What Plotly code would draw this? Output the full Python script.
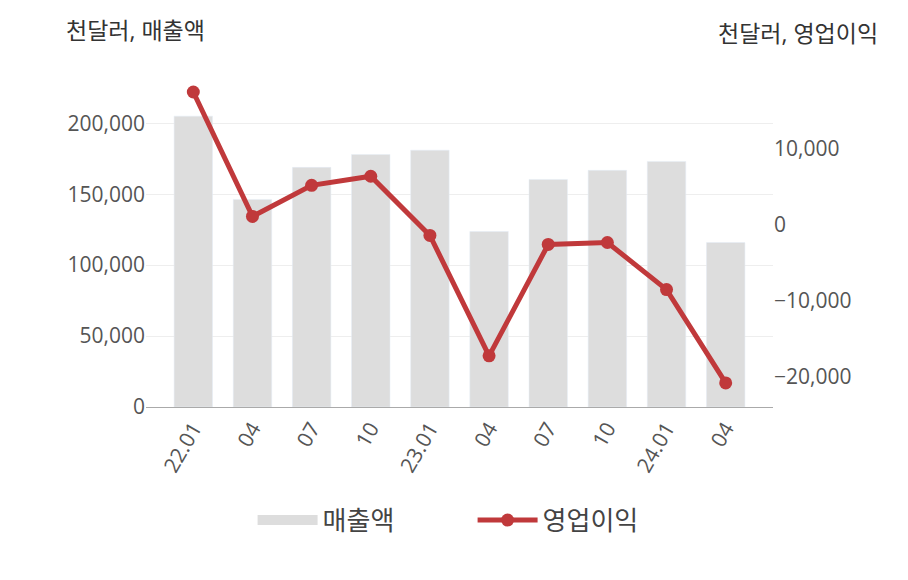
import plotly.graph_objects as go

quarters = ["22.01", "04", "07", "10", "23.01", "04", "07", "10", "24.01", "04"]
sales = [205000, 146300, 168900, 178000, 181000, 123700, 160400, 166800, 173100, 115900]
op_income = [17370, 1050, 5130, 6320, -1450, -17240, -2630, -2370, -8550, -20790]

xs = list(range(len(quarters)))
font = "Open Sans, Noto Sans CJK KR"
fig = go.Figure()
fig.add_trace(go.Bar(x=xs, y=sales, name="매출액", marker_color="#dddddd",
                     showlegend=False))
# legend-only entry so the swatch is a wide grey block like the original
fig.add_trace(go.Scatter(x=[None], y=[None], name="매출액", mode="lines",
                         line=dict(color="#dddddd", width=20)))
fig.add_trace(go.Scatter(x=xs, y=op_income, name="영업이익", yaxis="y2",
                         mode="lines+markers",
                         line=dict(color="#c0393b", width=5),
                         marker=dict(size=13, color="#c0393b")))

fig.update_layout(
    width=908, height=580,
    margin=dict(l=138, r=143, t=67, b=181),
    paper_bgcolor="white", plot_bgcolor="white",
    font=dict(family=font, color="#555555", size=21),
    bargap=0.35,
    showlegend=True,
    legend=dict(orientation="h", x=0.17, xanchor="left", y=-0.27, yanchor="top",
                font=dict(size=26, color="#444444"), itemwidth=60,
                entrywidth=145, entrywidthmode="pixels"),
    xaxis=dict(range=[-0.8, 9.8], tickvals=xs, ticktext=quarters, tickangle=-60,
               showline=True, linecolor="#aaaaaa", ticks=""),
    yaxis=dict(range=[0, 234000], tickvals=[0, 50000, 100000, 150000, 200000],
               tickformat=",", gridcolor="#eeeeee", zeroline=False),
    yaxis2=dict(overlaying="y", side="right", range=[-23950, 19600],
                tickvals=[-20000, -10000, 0, 10000], tickformat=",",
                showgrid=False, zeroline=False),
    annotations=[
        dict(text="천달러, 매출액", xref="paper", yref="paper", x=-0.13, y=1.19,
             xanchor="left", showarrow=False, font=dict(size=23, color="#333333")),
        dict(text="천달러, 영업이익", xref="paper", yref="paper", x=1.17, y=1.18,
             xanchor="right", showarrow=False, font=dict(size=23, color="#333333")),
    ],
)
fig.write_html("out.html")
